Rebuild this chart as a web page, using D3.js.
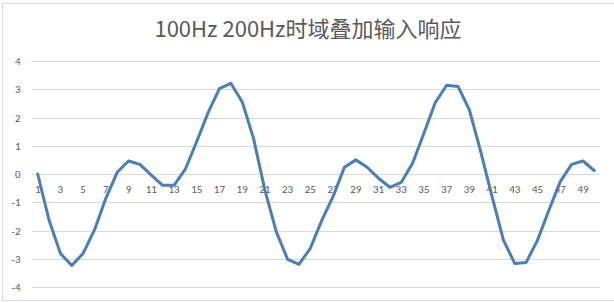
<!DOCTYPE html>
<html>
<head>
<meta charset="utf-8">
<script src="https://cdn.jsdelivr.net/npm/d3@7"></script>
<style>
  body { margin: 0; background: #fff; }
  text { font-family: Calibri, "Liberation Sans", "Noto Sans CJK SC", sans-serif; fill: #595959; }
</style>
</head>
<body>
<div id="vis"></div>
<script>
// categories 1..50
const categories = ["1","2","3","4","5","6","7","8","9","10","11","12","13","14","15","16","17","18","19","20",
  "21","22","23","24","25","26","27","28","29","30","31","32","33","34","35","36","37","38","39","40",
  "41","42","43","44","45","46","47","48","49","50"];

const values = [0, -1.63, -2.81, -3.24, -2.81, -1.98, -0.86, 0.06, 0.46, 0.34,
  -0.04, -0.40, -0.40, 0.17, 1.15, 2.17, 3.02, 3.21, 2.56, 1.26,
  -0.57, -2.04, -3.02, -3.20, -2.63, -1.65, -0.80, 0.24, 0.50, 0.24,
  -0.15, -0.47, -0.30, 0.38, 1.44, 2.53, 3.14, 3.10, 2.27, 0.79,
  -0.80, -2.34, -3.17, -3.13, -2.34, -1.28, -0.27, 0.34, 0.46, 0.12];

const yTicks = [-4, -3, -2, -1, 0, 1, 2, 3, 4];

const W = 614, H = 303;
const margin = { top: 61, right: 14, bottom: 16, left: 32 };

var svg = d3.select("#vis").append("svg").attr("width", W).attr("height", H);

// chart frame
svg.append("rect")
  .attr("x", 2.5).attr("y", 3.5)
  .attr("width", 640).attr("height", 297)
  .attr("fill", "none").attr("stroke", "#d9d9d9");

var x = d3.scaleBand().domain(categories).range([margin.left, W - margin.right]);
var y = d3.scaleLinear().domain([-4, 4]).range([H - margin.bottom, margin.top]);

// gridlines
svg.append("g")
  .selectAll("line")
  .data(yTicks)
  .join("line")
  .attr("x1", margin.left)
  .attr("x2", W - margin.right)
  .attr("y1", (d) => Math.round(y(d)) + 0.5)
  .attr("y2", (d) => Math.round(y(d)) + 0.5)
  .attr("stroke", "#d9d9d9")
  .attr("stroke-width", 1);

// y labels
svg.append("g")
  .selectAll("text")
  .data(yTicks)
  .join("text")
  .attr("x", 20.5)
  .attr("y", (d) => y(d) + 4)
  .attr("text-anchor", "end")
  .attr("font-size", 11)
  .text((d) => d);

// x labels (odd categories only), sitting on the zero line
svg.append("g")
  .selectAll("text")
  .data(categories.filter((d, i) => i % 2 == 0))
  .join("text")
  .attr("x", (d) => x(d) + x.bandwidth() / 2)
  .attr("y", y(0) + 19)
  .attr("text-anchor", "middle")
  .attr("font-size", 11)
  .text((d) => d);

// series line
var line = d3.line()
  .x((d, i) => x(categories[i]) + x.bandwidth() / 2)
  .y((d) => y(d));

svg.append("path")
  .datum(values)
  .attr("d", line)
  .attr("fill", "none")
  .attr("stroke", "#4a7ebb")
  .attr("stroke-width", 3)
  .attr("stroke-linejoin", "round")
  .attr("stroke-linecap", "round");

// title
svg.append("text")
  .attr("x", 308)
  .attr("y", 37)
  .attr("text-anchor", "middle")
  .attr("font-size", 22)
  .style("font-family", "'Noto Sans CJK SC', sans-serif")
  .text("100Hz 200Hz时域叠加输入响应");
</script>
</body>
</html>
